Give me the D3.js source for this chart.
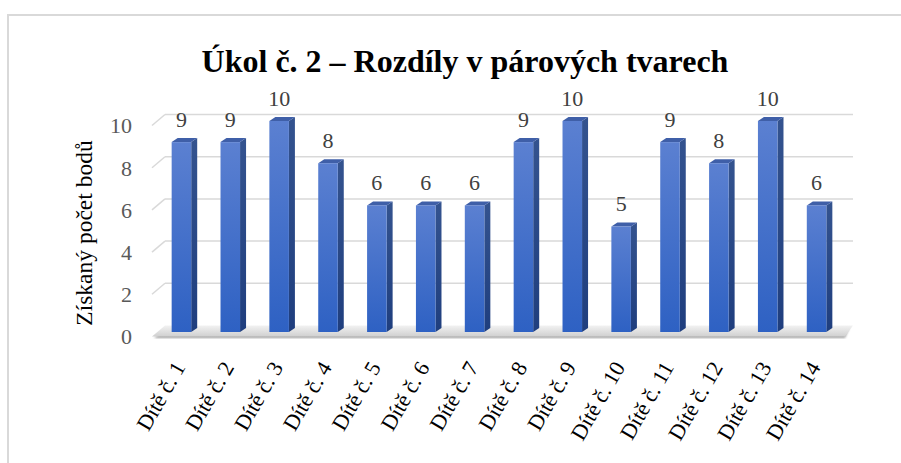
<!DOCTYPE html>
<html>
<head>
<meta charset="utf-8">
<script src="https://cdn.jsdelivr.net/npm/d3@7"></script>
<style>
  body { margin: 0; background: #fff; }
</style>
</head>
<body>
<div id="chart"></div>
<script>
// data
var categories = ['Dítě č. 1', 'Dítě č. 2', 'Dítě č. 3', 'Dítě č. 4', 'Dítě č. 5', 'Dítě č. 6', 'Dítě č. 7',
    'Dítě č. 8', 'Dítě č. 9', 'Dítě č. 10', 'Dítě č. 11', 'Dítě č. 12', 'Dítě č. 13', 'Dítě č. 14'];
var values = [9, 9, 10, 8, 6, 6, 6, 9, 10, 5, 9, 8, 10, 6];
var yTicks = [0, 2, 4, 6, 8, 10];
var title = 'Úkol č. 2 – Rozdíly v párových tvarech';
var yLabel = 'Získaný počet bodů';

var svgWidth = 901;
var svgHeight = 463;
var serif = "'Liberation Serif'";

// 3d offsets
var barDx = 6, barDy = -4;      // depth of a bar
var wallDx = 13, wallDy = -11;  // depth of floor / side wall

var svg = d3.select('#chart')
    .append('svg')
    .attr('width', svgWidth)
    .attr('height', svgHeight);

var defs = svg.append('defs');

var gFront = defs.append('linearGradient').attr('id', 'gFront')
    .attr('x1', 0).attr('y1', 0).attr('x2', 0).attr('y2', 1);
gFront.append('stop').attr('offset', '0%').attr('stop-color', '#5b80d1');
gFront.append('stop').attr('offset', '100%').attr('stop-color', '#2e61c3');

var gSide = defs.append('linearGradient').attr('id', 'gSide')
    .attr('x1', 0).attr('y1', 0).attr('x2', 0).attr('y2', 1);
gSide.append('stop').attr('offset', '0%').attr('stop-color', '#34538f');
gSide.append('stop').attr('offset', '100%').attr('stop-color', '#1f3e7e');

var gFloor = defs.append('linearGradient').attr('id', 'gFloor')
    .attr('x1', 0).attr('y1', 0).attr('x2', 0).attr('y2', 1);
gFloor.append('stop').attr('offset', '0%').attr('stop-color', '#f2f2f2');
gFloor.append('stop').attr('offset', '100%').attr('stop-color', '#d0d0d0');

defs.append('filter').attr('id', 'blur')
    .append('feGaussianBlur').attr('stdDeviation', 1.2);

// chart border
svg.append('rect')
    .attr('x', 8).attr('y', 15)
    .attr('width', svgWidth).attr('height', svgHeight)
    .attr('fill', 'none')
    .attr('stroke', '#d9d9d9')
    .attr('stroke-width', 2);

var xScale = d3.scaleBand()
    .domain(categories)
    .range([157, 841])
    .paddingInner(0.6)
    .paddingOuter(0.3);

// y for the front face of the bars
var yScale = d3.scaleLinear()
    .domain([0, 10])
    .range([332, 121]);

var wallLeft = 152;
var wallRight = 853;
var frontOff = 4.5;

// gridlines: left wall diagonal + back wall
var grid = svg.append('g').attr('class', 'grid');
yTicks.forEach(function(v) {
    var yf = yScale(v) + frontOff;
    var yb = yf + wallDy;
    if (v > 0) {
        grid.append('line')
            .attr('x1', wallLeft).attr('y1', yf)
            .attr('x2', wallLeft + wallDx).attr('y2', yb)
            .attr('stroke', '#d9d9d9').attr('stroke-width', 1.5);
        grid.append('line')
            .attr('x1', wallLeft + wallDx).attr('y1', yb)
            .attr('x2', wallRight).attr('y2', yb)
            .attr('stroke', '#d9d9d9').attr('stroke-width', 1.5);
    }
});

// floor
var fy = yScale(0) + frontOff;
var floorRight = 845;
svg.append('polygon')
    .attr('points', [
        [wallLeft + 2, fy + 1.5], [floorRight, fy + 1.5],
        [wallRight - 4, fy + wallDy + 3], [wallLeft + wallDx + 2, fy + wallDy + 3]
    ].join(' '))
    .attr('fill', '#555')
    .attr('opacity', 0.55)
    .attr('filter', 'url(#blur)');
svg.append('polygon')
    .attr('points', [
        [wallLeft, fy], [floorRight, fy],
        [wallRight, fy + wallDy], [wallLeft + wallDx, fy + wallDy]
    ].join(' '))
    .attr('fill', 'url(#gFloor)');

// bars
var bars = svg.append('g').attr('class', 'bars')
    .selectAll('g')
    .data(values)
    .enter()
    .append('g');

var bw = xScale.bandwidth();

bars.append('polygon')
    .attr('class', 'side')
    .attr('points', function(d, i) {
        var x = xScale(categories[i]) + bw;
        return [[x, yScale(d)], [x + barDx, yScale(d) + barDy],
            [x + barDx, yScale(0) + barDy], [x, yScale(0)]].join(' ');
    })
    .attr('fill', 'url(#gSide)');

bars.append('polygon')
    .attr('class', 'top')
    .attr('points', function(d, i) {
        var x = xScale(categories[i]);
        return [[x, yScale(d)], [x + bw, yScale(d)],
            [x + bw + barDx, yScale(d) + barDy], [x + barDx, yScale(d) + barDy]].join(' ');
    })
    .attr('fill', '#3f5fa8');

bars.append('rect')
    .attr('class', 'front')
    .attr('x', function(d, i) { return xScale(categories[i]); })
    .attr('y', function(d) { return yScale(d); })
    .attr('width', bw)
    .attr('height', function(d) { return yScale(0) - yScale(d); })
    .attr('fill', 'url(#gFront)');

// value labels
bars.append('text')
    .attr('x', function(d, i) { return xScale(categories[i]) + bw / 2; })
    .attr('y', function(d) { return yScale(d) - 15.5; })
    .attr('text-anchor', 'middle')
    .style('font-family', serif)
    .attr('font-size', '22px')
    .attr('fill', '#404040')
    .text(function(d) { return d; });

// y tick labels
svg.append('g').attr('class', 'yticks')
    .selectAll('text')
    .data(yTicks)
    .enter()
    .append('text')
    .attr('x', 132)
    .attr('y', function(d) { return yScale(d) + frontOff + 0.5; })
    .attr('dy', '0.34em')
    .attr('text-anchor', 'end')
    .style('font-family', serif)
    .attr('font-size', '22px')
    .attr('fill', '#595959')
    .text(function(d) { return d; });

// x labels
svg.append('g').attr('class', 'xlabels')
    .selectAll('text')
    .data(categories)
    .enter()
    .append('text')
    .attr('transform', function(d) {
        return 'translate(' + (xScale(d) + bw / 2 - 8) + ',' + 360 + ') rotate(-60)';
    })
    .attr('dy', '0.66em')
    .attr('text-anchor', 'end')
    .style('font-family', serif)
    .attr('font-size', '22px')
    .attr('fill', '#000')
    .text(function(d) { return d; });

// y axis title
svg.append('text')
    .attr('transform', 'translate(92,' + 233 + ') rotate(-90)')
    .attr('text-anchor', 'middle')
    .style('font-family', serif)
    .attr('font-size', '23.5px')
    .attr('fill', '#000')
    .text(yLabel);

// chart title
svg.append('text')
    .attr('x', 465)
    .attr('y', 72)
    .attr('text-anchor', 'middle')
    .style('font-family', serif)
    .attr('font-size', '32px')
    .attr('font-weight', 'bold')
    .attr('fill', '#000')
    .text(title);
</script>
</body>
</html>
